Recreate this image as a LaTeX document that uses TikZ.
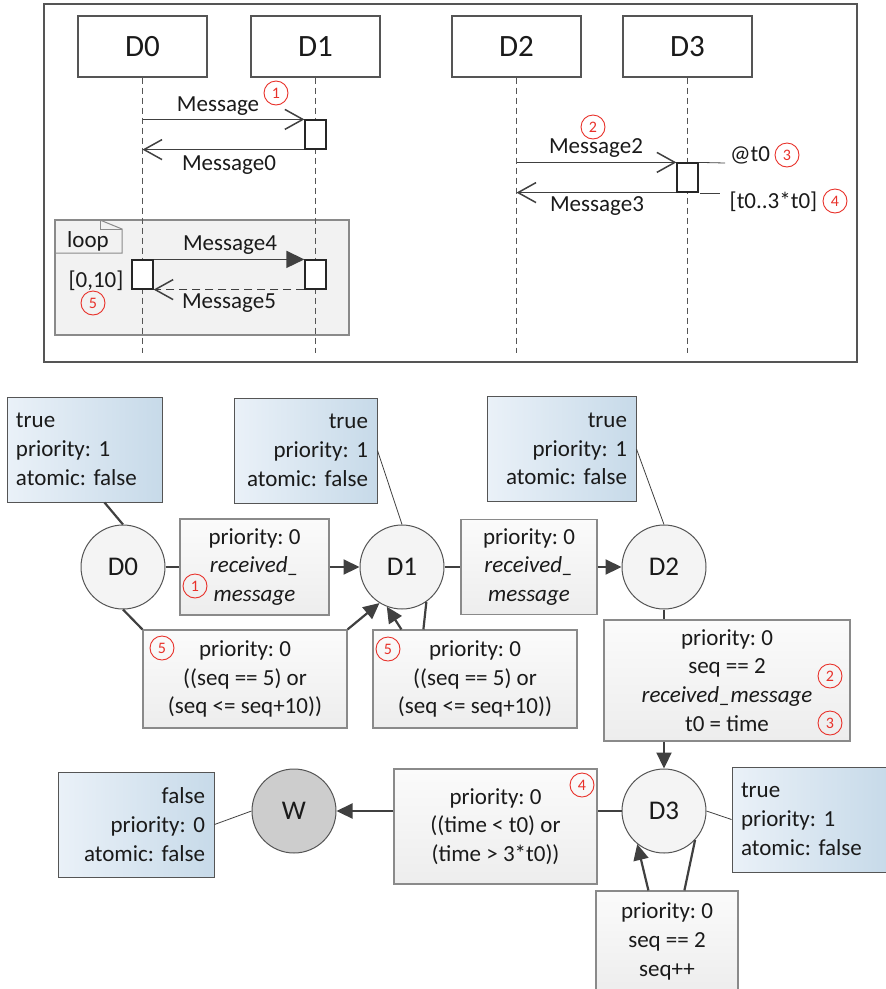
\documentclass[tikz,border=0pt]{standalone}
\usepackage{fontspec}
\setmainfont{Carlito}
\usetikzlibrary{arrows.meta,calc}
\definecolor{edgec}{HTML}{404040}
\definecolor{bluel}{HTML}{EAF1F8}
\definecolor{bluer}{HTML}{C7DAE9}
\definecolor{boxtop}{HTML}{FBFBFB}
\definecolor{boxbot}{HTML}{EDEDED}
\definecolor{frameg}{HTML}{555555}
\definecolor{boxline}{HTML}{8A8A8A}
\definecolor{loopfill}{HTML}{F2F2F2}
\definecolor{circfill}{HTML}{F4F4F4}
\definecolor{wfill}{HTML}{CDCDCD}
\definecolor{txt}{HTML}{1A1A1A}
\definecolor{annred}{HTML}{E8312A}
\begin{document}
\frenchspacing
\begin{tikzpicture}[x=1pt,y=-1pt,
  every node/.style={text=txt, font=\fontsize{23}{28.7}\selectfont\frenchspacing, inner sep=0pt},
  head/.style={draw=frameg, line width=1.2pt, fill=white, minimum width=129pt, minimum height=61pt, font=\fontsize{31}{36}\selectfont},
  lifeline/.style={draw=frameg, line width=1pt, dash pattern=on 6pt off 4pt},
  act/.style={draw=black!85, line width=1.2pt, fill=white, minimum width=21pt, minimum height=29pt},
  openmsg/.style={draw=edgec, line width=1.5pt, -{Straight Barb[length=18pt,width=20pt]}},
  fillmsg/.style={draw=edgec, line width=1.5pt, -{Triangle[length=18pt,width=17pt]}},
  ann/.style={circle, draw=annred, text=annred, line width=0.9pt, minimum size=24pt, font=\fontsize{16}{16}\selectfont},
  note/.style={draw=frameg, line width=1pt, left color=bluel, right color=bluer, minimum height=105pt, inner xsep=9pt},
  ebox/.style={draw=boxline, line width=1.2pt, top color=boxtop, bottom color=boxbot, align=center},
  state/.style={circle, draw=frameg, line width=1pt, fill=circfill, minimum size=84pt, font=\fontsize{27}{30}\selectfont},
  edge/.style={draw=edgec, line width=2.2pt},
  edgearrow/.style={edge, -{Triangle[length=16pt,width=15pt]}},
  thinline/.style={draw=edgec, line width=0.8pt}
]
\useasboundingbox (0,0) rectangle (886,989);

% ---------------- sequence diagram ----------------
\draw[draw=frameg, line width=2pt] (44,4) rectangle (857,362);
\node[draw=boxline, fill=loopfill, line width=1.2pt, minimum width=294pt, minimum height=115pt] (lp) at (202,277.5) {};
\draw[draw=boxline, line width=1pt] (55,253) -- (122,253) -- (122,229) -- (100,220);
\draw[draw=boxline, line width=0.8pt] (100,220) -- (100,229) -- (122,229);
\node (looplbl) at (88,241) {loop};

\node[head] (h0) at (142.5,46.5) {D0};
\node[head] (h1) at (315.5,46.5) {D1};
\node[head] (h2) at (516.5,46.5) {D2};
\node[head] (h3) at (687.5,46.5) {D3};
\coordinate (l0) at (142.5,353);
\coordinate (l1) at (315.5,353);
\coordinate (l2) at (516.5,353);
\coordinate (l3) at (687.5,353);
\draw[lifeline] (h0.south) -- (l0);
\draw[lifeline] (h1.south) -- (l1);
\draw[lifeline] (h2.south) -- (l2);
\draw[lifeline] (h3.south) -- (l3);

\node[act] (a1) at (315.5,134.5) {};
\node[act] (a3) at (687.5,177.5) {};
\node[act] (la0) at (142.5,274.5) {};
\node[act] (la1) at (315.5,274.5) {};

\draw[openmsg] (h0.south |- a1.north west) -- (a1.north west);
\draw[openmsg] (a1.south west) -- (h0.south |- a1.south west);
\draw[openmsg] (h2.south |- a3.north west) -- (a3.north west);
\draw[openmsg] (a3.south west) -- (h2.south |- a3.south west);
\draw[fillmsg] (la0.north east) -- (la1.north west);
\draw[openmsg, dash pattern=on 8pt off 5pt] (la1.south west) -- (la0.south east);

\coordinate (c3) at (725,163);
\coordinate (c4s) at (700,193);
\coordinate (c4e) at (720,193);
\draw[thinline] (a3.north east) -- (c3);
\draw[thinline] (c4s) -- (c4e);

\node (m1) at (218,106) {Message};
\node (m0) at (229,165) {Message0};
\node (m2) at (596,148) {Message2};
\node (m3) at (597,206) {Message3};
\node (m4) at (230,245) {Message4};
\node (m5) at (229,303) {Message5};
\node (tat) at (750,155) {@t0};
\node (tint) at (773.5,202) {[t0..3*t0]};
\node (rng) at (96,281) {[0,10]};

\node[ann] (s1) at (276,93) {1};
\node[ann] (s2) at (593,127) {2};
\node[ann] (s3) at (787,155) {3};
\node[ann] (s4) at (835,201) {4};
\node[ann] (s5) at (93,303) {5};

% ---------------- state machine ----------------
\node[note, align=left, text width=137pt] (bd0) at (84.5,449.5) {true\\priority: 1\\atomic: false};
\node[note, align=right, text width=125pt] (bd1) at (305.5,450.5) {true\\priority: 1\\atomic: false};
\node[note, align=right, text width=131pt] (bd2) at (561.5,449) {true\\priority: 1\\atomic: false};
\node[note, align=left, text width=137pt] (bd3) at (809.5,819.5) {true\\priority: 1\\atomic: false};
\node[note, align=right, text width=138pt] (bw) at (136,824.5) {false\\priority: 0\\atomic: false};

\node[state] (d0) at (123,567) {D0};
\node[state] (d1) at (402,567) {D1};
\node[state] (d2) at (664,567) {D2};
\node[state] (d3) at (664,811) {D3};
\node[state, fill=wfill] (w) at (294,811) {W};

\node[ebox, minimum width=149pt, minimum height=96pt] (e01) at (254.5,567) {priority: 0\\\textit{received\_}\\\textit{message}};
\node[ebox, minimum width=136pt, minimum height=95pt] (e12) at (529,567) {priority: 0\\\textit{received\_}\\\textit{message}};
\node[ebox, minimum width=204pt, minimum height=98pt] (el0) at (245,679) {priority: 0\\((seq == 5) or\\(seq <= seq+10))};
\node[ebox, minimum width=204pt, minimum height=98pt] (el1) at (475,679) {priority: 0\\((seq == 5) or\\(seq <= seq+10))};
\node[ebox, minimum width=246pt, minimum height=121pt] (e23) at (727,680.5) {priority: 0\\seq == 2\\\textit{received\_message}\\t0 = time};
\node[ebox, minimum width=203pt, minimum height=115pt] (e3w) at (495.5,826.5) {priority: 0\\((time < t0) or\\(time > 3*t0))};
\node[ebox, minimum width=142pt, minimum height=101pt] (e33) at (667,941.5) {priority: 0\\seq == 2\\seq++};

\draw[edge] ([xshift=20pt]bd0.south) -- (d0.north);
\draw[thinline] (bd1.east) -- (d1.north);
\draw[thinline] (bd2.east) -- (d2.north);
\draw[thinline] (d3.east) -- (bd3.west);
\draw[thinline] (bw.east) -- (w.west);

\draw[edge] (d0) -- (e01);
\draw[edgearrow] (e01) -- (d1);
\draw[edge] (d1) -- (e12);
\draw[edgearrow] (e12) -- (d2);
\draw[edge] (d0.south) -- (el0.north west);
\draw[edgearrow] (el0.north east) -- (d1.238);
\draw[edgearrow] ([xshift=29pt]el1.north west) -- (d1.249);
\draw[edge] ([xshift=51pt]el1.north west) -- (d1.305);
\draw[edge] (d2.south) -- (d2.south |- e23.north);
\draw[edgearrow] (d3 |- e23.south) -- (d3.north);
\draw[edge] (d3.west) -- (d3.west -| e3w.east);
\draw[edgearrow] (e3w.west |- w.east) -- (w.east);
\draw[edgearrow] ([xshift=53pt]e33.north west) -- (d3.231);
\draw[edge] ([xshift=89pt]e33.north west) -- (d3.317);

\node[ann] (t1) at (195,586) {1};
\node[ann] (t5a) at (162,648) {5};
\node[ann] (t5b) at (388,649) {5};
\node[ann] (t2) at (830,676) {2};
\node[ann] (t3) at (830,723) {3};
\node[ann] (t4) at (582,785) {4};
\end{tikzpicture}
\end{document}
